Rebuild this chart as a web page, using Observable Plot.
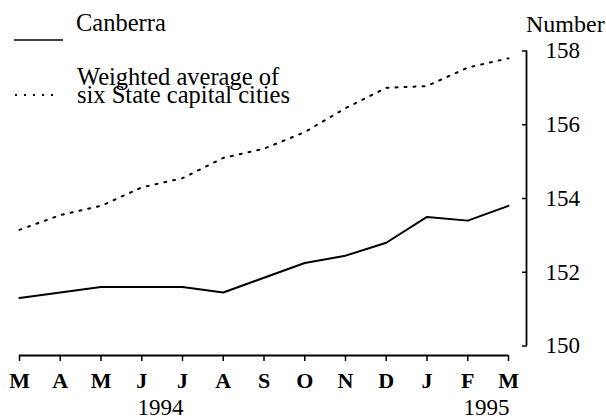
<!DOCTYPE html>
<html>
<head>
<meta charset="utf-8">
<script src="https://cdn.jsdelivr.net/npm/d3@7"></script>
<script src="https://cdn.jsdelivr.net/npm/@observablehq/plot@0.6"></script>
<style>
  html, body { margin: 0; padding: 0; background: #fff; }
  #wrap { position: relative; width: 606px; height: 419px; font-family: "Liberation Serif", "Times New Roman", serif; color: #000; }
  #wrap svg.plot { position: absolute; left: 0; top: 0; }
  .lbl { position: absolute; white-space: nowrap; line-height: 18px; font-size: 24.5px; }
  #legendSwatches { position: absolute; left: 0; top: 0; }
</style>
</head>
<body>
<div id="wrap">
  <svg id="legendSwatches" width="120" height="110">
    <line x1="14" x2="63" y1="40" y2="40" stroke="#000" stroke-width="1.6"/>
    <line x1="15" x2="60" y1="95" y2="95" stroke="#000" stroke-width="2" stroke-dasharray="2,7"/>
  </svg>
  <div class="lbl" style="left:76px; top:14px;">Canberra</div>
  <div class="lbl" style="left:77px; top:67.5px;">Weighted average of<br>six State capital cities</div>
  <div class="lbl" style="left:526px; top:15px; font-size:24px;">Number</div>
</div>
<script>
// Data (March 1994 – March 1995)
const months = ["M", "A", "M", "J", "J", "A", "S", "O", "N", "D", "J", "F", "M"];
const canberra = [151.3, 151.45, 151.6, 151.6, 151.6, 151.45, 151.85, 152.25, 152.45, 152.8, 153.5, 153.4, 153.8];
const weighted = [153.15, 153.55, 153.8, 154.3, 154.55, 155.1, 155.35, 155.8, 156.45, 157.0, 157.05, 157.55, 157.8];
const yTicks = [150, 152, 154, 156, 158];
const yearLabels = ["1994", "1995"];
const yearMonthIndex = [4, 12];

const idx = months.map((_, i) => i);
const rowsC = idx.map(i => ({i, v: canberra[i]}));
const rowsW = idx.map(i => ({i, v: weighted[i]}));
const yMin = d3.min(yTicks), yMax = d3.max(yTicks);
const last = idx[idx.length - 1];

const chart = Plot.plot({
  width: 606,
  height: 419,
  marginLeft: 19,
  marginRight: 98,
  marginTop: 50.5,
  marginBottom: 73.5,
  style: {fontFamily: "Liberation Serif, Times New Roman, serif", background: "#fff", color: "#000", overflow: "visible"},
  x: {domain: [0, last], axis: null},
  y: {domain: [yMin, yMax], axis: null},
  marks: [
    // x axis line
    Plot.ruleY([yMin], {dy: 9.5, stroke: "#000", strokeWidth: 1.8}),
    Plot.axisX({
      ticks: idx,
      tickFormat: i => months[i],
      tickSize: 6,
      tickPadding: 11,
      dy: 9.5,
      fontSize: 22,
      fontWeight: "bold",
      strokeWidth: 1.5,
      label: null
    }),
    // y axis line
    Plot.ruleX([last], {dx: 18, stroke: "#000", strokeWidth: 1.8}),
    Plot.axisY({
      anchor: "right",
      ticks: yTicks,
      tickSize: -5,
      tickPadding: 24,
      dx: 18,
      fontSize: 23,
      strokeWidth: 1.5,
      label: null
    }),
    // year labels
    Plot.text(yearLabels, {
      x: (d, k) => yearMonthIndex[k],
      text: d => d,
      frameAnchor: "bottom",
      textAnchor: "end",
      lineAnchor: "top",
      dy: 53,
      dx: 1,
      fontSize: 23
    }),
    Plot.line(rowsW, {x: "i", y: "v", stroke: "#000", strokeWidth: 2, strokeDasharray: "2,7"}),
    Plot.line(rowsC, {x: "i", y: "v", stroke: "#000", strokeWidth: 2})
  ]
});
chart.classList.add("plot");
document.getElementById("wrap").prepend(chart);
</script>
</body>
</html>
